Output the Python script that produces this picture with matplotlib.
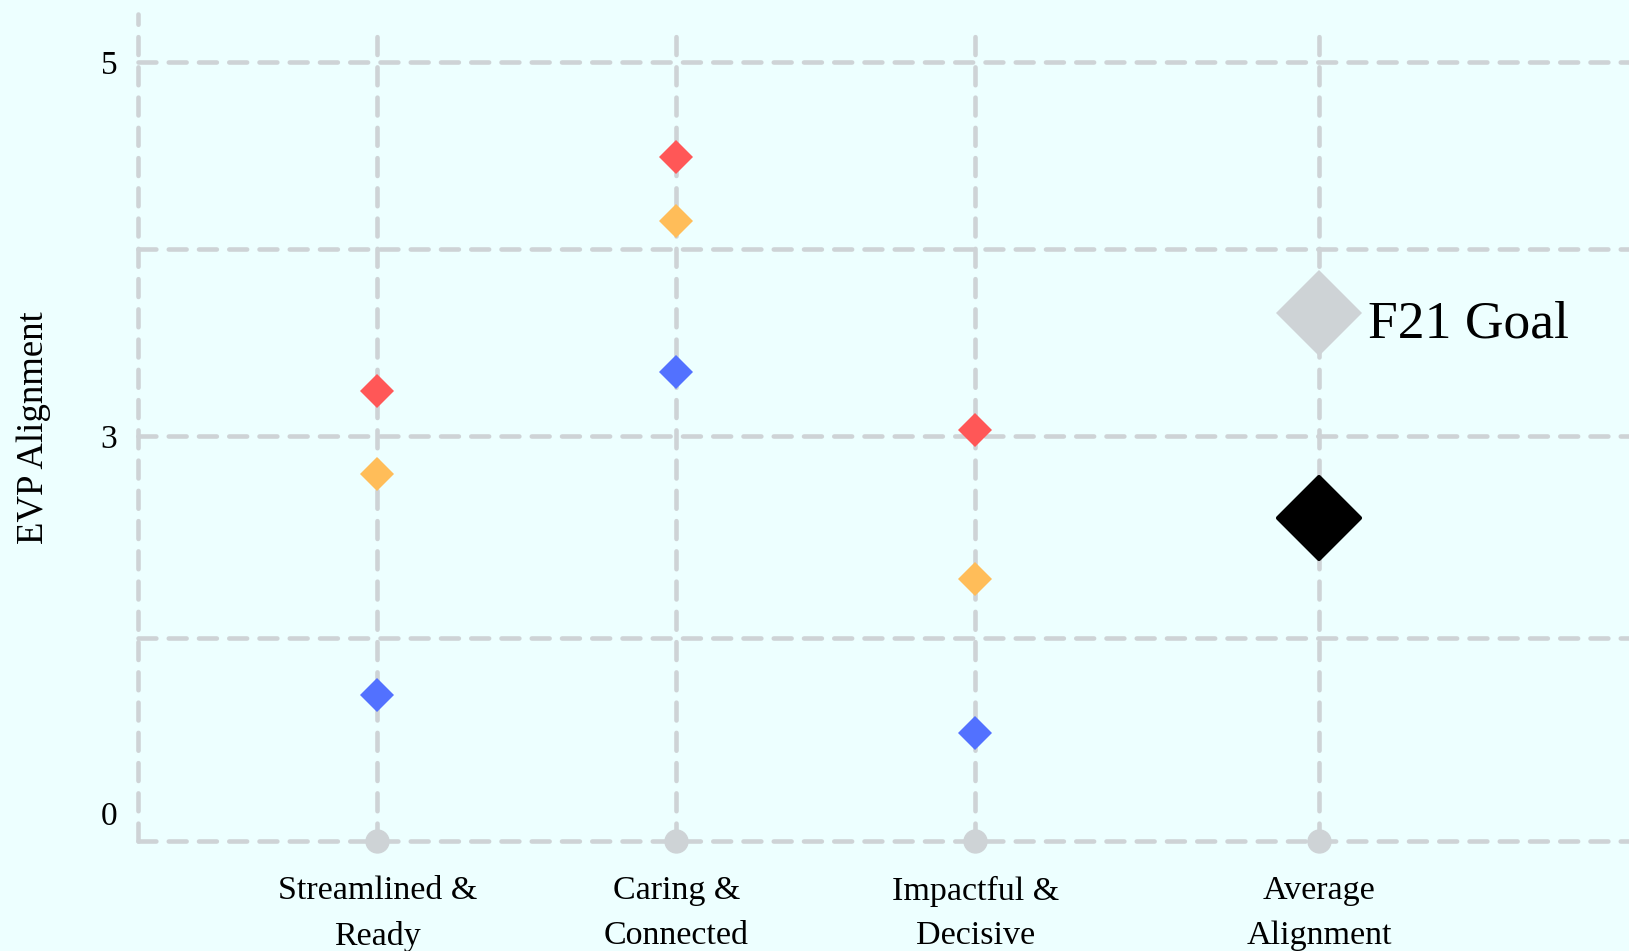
import numpy as np
import matplotlib
matplotlib.use("Agg")
import matplotlib.pyplot as plt
from matplotlib.markers import MarkerStyle
from matplotlib.transforms import ScaledTranslation

# EVP alignment scores per pillar, one list per group
categories = ["Streamlined &\nReady", "Caring &\nConnected", "Impactful &\nDecisive"]
red_scores = [3.24, 4.49, 3.03]
orange_scores = [2.72, 4.15, 1.94]
blue_scores = [1.08, 3.34, 0.80]

average_label = "Average\nAlignment"
average_score = 2.39
goal_label = "F21 Goal"
goal_score = 3.66

y_ticks = [0, 3, 5]
grid_levels = [0, 1.5, 3, 4, 5]

BG = "#EDFFFF"
GRAY = "#CED3D6"
RED = "#FF5757"
ORANGE = "#FFBD59"
BLUE = "#5271FF"

plt.rcParams["font.family"] = ["Liberation Serif", "DejaVu Serif"]

# the 0-3 band gets a bit more than half of the height, 3-5 the rest
LOWER_SHARE = 0.52


def forward(v):
    v = np.asarray(v, dtype=float)
    return np.where(v <= 3, v / 3 * LOWER_SHARE,
                    LOWER_SHARE + (v - 3) / 2 * (1 - LOWER_SHARE))


def inverse(t):
    t = np.asarray(t, dtype=float)
    return np.where(t <= LOWER_SHARE, t / LOWER_SHARE * 3,
                    3 + (t - LOWER_SHARE) / (1 - LOWER_SHARE) * 2)


fig = plt.figure(figsize=(16.29, 9.51), dpi=100, facecolor=BG)
ax = fig.add_axes([0.0847, 0.1157, 0.9153, 0.8696])
ax.set_facecolor(BG)
ax.set_yscale("function", functions=(forward, inverse))

x = np.arange(len(categories))
avg_x = len(categories) - 1 + 1.15
all_x = list(x) + [avg_x]
ax.set_xlim(-0.8, 4.185)
ax.set_ylim(0, 5.257)

dash = dict(color=GRAY, lw=3.3, ls=(0, (3.9, 2.7)), dash_capstyle="round",
            clip_on=False, zorder=1)
for lvl in grid_levels:
    ax.axhline(lvl, **dash)
for xi in all_x:
    ax.axvline(xi, ymax=0.98, **dash)
ax.axvline(-0.8, **dash)

# dots where the pillar lines meet the baseline
ax.plot(all_x, [0] * len(all_x), ls="none", marker="o", ms=16.5, color=GRAY,
        clip_on=False, zorder=3)

for scores, color in [(red_scores, RED), (orange_scores, ORANGE), (blue_scores, BLUE)]:
    ax.plot(x, scores, ls="none", marker="D", ms=17.8, color=color, mew=0, zorder=4)

ax.plot([avg_x], [goal_score], ls="none", marker="D", ms=44, color=GRAY, mew=0, zorder=4)
ax.plot([avg_x], [average_score], ls="none", marker=MarkerStyle("D", joinstyle="round"),
        ms=42, color="black", mec="black", mew=3, zorder=4)
ax.annotate(goal_label, (avg_x, goal_score), xytext=(35, -18), textcoords="offset points",
            fontsize=38.5, ha="left", va="baseline", zorder=5)

for side in ax.spines.values():
    side.set_visible(False)

ax.set_xticks(all_x, categories + [average_label])
ax.set_yticks(y_ticks, [str(t) for t in y_ticks])
ax.yaxis.set_minor_locator(matplotlib.ticker.NullLocator())
ax.tick_params(axis="x", length=0, pad=25, labelsize=24.5)
ax.tick_params(axis="y", length=0, pad=15, labelsize=24)
for lab in ax.get_xticklabels():
    lab.set_linespacing(1.6)

# lift the zero label off the baseline
zero = ax.get_yticklabels()[0]
zero.set_transform(zero.get_transform() + ScaledTranslation(0, 0.28, fig.dpi_scale_trans))

ax.set_ylabel("EVP Alignment", fontsize=26.5)
ax.yaxis.set_label_coords(-0.058, 0.5)

fig.savefig("out.png", dpi=100, facecolor=BG)
